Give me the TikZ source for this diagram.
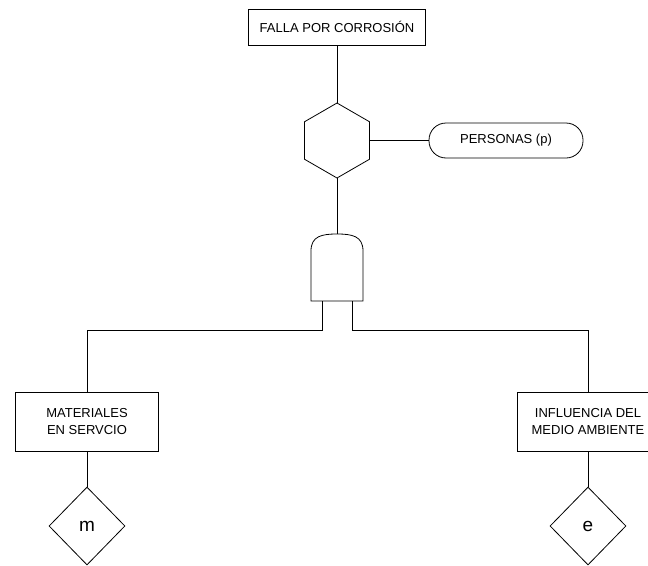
\documentclass[tikz,border=0pt]{standalone}
\usepackage{fontspec}
\setmainfont{Liberation Sans}
\usetikzlibrary{shapes.geometric}

\begin{document}
\begin{tikzpicture}[x=1pt,y=-1pt,line width=.8pt,
    evento/.style={draw, rectangle, inner sep=0pt, align=center, font=\fontsize{13}{16.5}\selectfont},
    basico/.style={draw, diamond, inner sep=0pt, minimum width=76pt, minimum height=78pt, font=\fontsize{19}{19}\selectfont}]
  \useasboundingbox (0,0) rectangle (648,565);
  \node [evento, minimum width=177pt, minimum height=36pt] (falla) at (337,27) {FALLA POR CORROSIÓN};
  \node [draw, regular polygon, regular polygon sides=6, shape border rotate=30, minimum size=75pt, inner sep=0pt] (inhib) at (337,140.5) {};
  \node [evento, rounded corners=17pt, minimum width=154pt, minimum height=35pt] (personas) at (506,140.5) {PERSONAS (p)};
  % compuerta Y
  \coordinate (ytop) at (337,234);
  \coordinate (legL) at (322,301);
  \coordinate (legR) at (352,301);
  \draw (311,301) -- (311,251) .. controls (311,236) and (322,234) .. (ytop) .. controls (352,234) and (363,236) .. (363,251) -- (363,301) -- cycle;
  \node [evento, minimum width=143pt, minimum height=59pt] (mat) at (87,421.5) {MATERIALES\\EN SERVCIO};
  \node [evento, minimum width=142pt, minimum height=59pt] (infl) at (588,421.5) {INFLUENCIA DEL\\MEDIO AMBIENTE};
  \node [basico] (dm) at (87,526) {m};
  \node [basico] (de) at (588,526) {e};
  \draw (falla.south) -- (inhib.north);
  \draw (inhib.east) -- (personas.west);
  \draw (inhib.south) -- (ytop);
  \draw (legL) -- ++(0,29) -| (mat.north);
  \draw (legR) -- ++(0,29) -| (infl.north);
  \draw (mat) -- (dm);
  \draw (infl) -- (de);
\end{tikzpicture}
\end{document}
